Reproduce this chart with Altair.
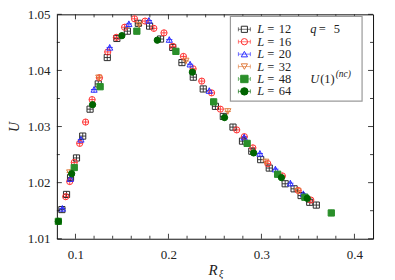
import altair as alt
import pandas as pd

# ---------------- data ----------------
L_values = ["12", "16", "20", "32", "48", "64"]

x12 = [0.0854, 0.0904, 0.0947, 0.1011, 0.1078, 0.1157, 0.1245, 0.1342, 0.1445, 0.1558,
       0.1676, 0.1797, 0.1915, 0.2046, 0.2145, 0.2267, 0.2374, 0.2505, 0.2590, 0.2694,
       0.2796, 0.2896, 0.2992, 0.3084, 0.3255, 0.3351, 0.3426, 0.3519, 0.3590]
y12 = [1.0152, 1.0179, 1.0209, 1.0244, 1.0283, 1.0331, 1.0376, 1.0423, 1.0457, 1.0470,
       1.0484, 1.0479, 1.0456, 1.0441, 1.0414, 1.0388, 1.0367, 1.0336, 1.0318, 1.0299,
       1.0274, 1.0256, 1.0241, 1.0226, 1.0198, 1.0189, 1.0177, 1.0165, 1.0160]

x16 = [0.0895, 0.0938, 0.0987, 0.1045, 0.1109, 0.1179, 0.1258, 0.1347, 0.1440, 0.1528,
       0.1635, 0.1749, 0.1843, 0.1952, 0.2046, 0.2161, 0.2265, 0.2358, 0.2464, 0.2558,
       0.2734, 0.2816, 0.2908, 0.3068, 0.3225, 0.3396, 0.3531]
y16 = [1.0175, 1.0202, 1.0236, 1.0270, 1.0308, 1.0348, 1.0387, 1.0433, 1.0459, 1.0477,
       1.0492, 1.0488, 1.0475, 1.0467, 1.0443, 1.0425, 1.0403, 1.0381, 1.0360, 1.0331,
       1.0294, 1.0282, 1.0262, 1.0234, 1.0212, 1.0186, 1.0169]

x20 = [0.0859, 0.0945, 0.1059, 0.1200, 0.1368, 0.1574, 0.1790, 0.2009, 0.2233, 0.2439,
       0.2814, 0.2983, 0.3150, 0.3311, 0.3451]
y20 = [1.0154, 1.0207, 1.0277, 1.0366, 1.0441, 1.0483, 1.0489, 1.0455, 1.0411, 1.0364,
       1.0281, 1.0252, 1.0224, 1.0199, 1.0180]

x32 = [0.0938, 0.1251, 0.1685, 0.2187, 0.2638, 0.3046, 0.3391]
y32 = [1.0218, 1.0387, 1.0481, 1.0417, 1.0327, 1.0237, 1.0185]

x48 = [0.0816, 0.0987, 0.1265, 0.1660, 0.2080, 0.2486, 0.2846, 0.3174, 0.3467, 0.3751]
y48 = [1.0131, 1.0227, 1.0371, 1.0470, 1.0434, 1.0344, 1.0270, 1.0215, 1.0174, 1.0146]

x64 = [0.0816, 0.0959, 0.1184, 0.1499, 0.1880, 0.2257, 0.2603, 0.2916, 0.3215, 0.3492]
y64 = [1.0131, 1.0216, 1.0339, 1.0462, 1.0454, 1.0397, 1.0316, 1.0253, 1.0209, 1.0172]

x_major = [0.1, 0.2, 0.3, 0.4]
x_minor = [0.12, 0.14, 0.16, 0.18, 0.22, 0.24, 0.26, 0.28, 0.32, 0.34, 0.36, 0.38]
y_major = [1.01, 1.02, 1.03, 1.04, 1.05]
y_minor = [1.015, 1.025, 1.035, 1.045]

# ---------------- styling ----------------
colors = ["#2b2b2b", "#ff3030", "#2b2bff", "#e07a3c", "#2a8f2a", "#006400"]
fills = ["transparent", "transparent", "transparent", "transparent", "#2a8f2a", "#006400"]
shapes = ["square", "circle", "triangle-up", "triangle-down", "square", "circle"]
sizes = [38, 40, 40, 40, 55, 55]

W, H = 317, 225
SERIF = "Liberation Serif"
INK = "#222222"

series = [(x12, y12), (x16, y16), (x20, y20), (x32, y32), (x48, y48), (x64, y64)]
rows = []
for lab, (xs, ys) in zip(L_values, series):
    for a, b in zip(xs, ys):
        rows.append({"x": a, "y": b, "L": lab})
df = pd.DataFrame(rows)

xscale = alt.Scale(domain=[0.08, 0.42], nice=False, zero=False)
yscale = alt.Scale(domain=[1.01, 1.05], nice=False, zero=False)

xaxis = alt.Axis(values=x_major, format=".1f", ticks=False, domain=False, grid=False,
                 labelPadding=10, title=None, labelFont=SERIF, labelFontSize=13,
                 labelColor=INK)
yaxis = alt.Axis(values=y_major, format=".2f", ticks=False, domain=False, grid=False,
                 labelPadding=7, title="U", titleFont=SERIF, titleFontSize=14,
                 titleFontStyle="italic", titleFontWeight="normal", titleColor=INK,
                 titleX=-42, titleY=H / 2, titleBaseline="middle", labelFont=SERIF,
                 labelFontSize=13, labelColor=INK)

stroke_enc = alt.Stroke("L:N", scale=alt.Scale(domain=L_values, range=colors), legend=None)
size_enc = alt.Size("L:N", scale=alt.Scale(domain=L_values, range=sizes), legend=None)

crosses = alt.Chart(df).mark_point(opacity=1, strokeWidth=0.9, shape="M-1,0L1,0M0,-1L0,1").encode(
    x=alt.X("x:Q", scale=xscale, axis=xaxis),
    y=alt.Y("y:Q", scale=yscale, axis=yaxis),
    stroke=stroke_enc, size=size_enc,
)

points = alt.Chart(df).mark_point(opacity=1, strokeWidth=1).encode(
    x=alt.X("x:Q", scale=xscale, axis=xaxis),
    y=alt.Y("y:Q", scale=yscale, axis=yaxis),
    stroke=stroke_enc,
    fill=alt.Fill("L:N", scale=alt.Scale(domain=L_values, range=fills), legend=None),
    shape=alt.Shape("L:N", scale=alt.Scale(domain=L_values, range=shapes), legend=None),
    size=size_enc,
)

# inward ticks on all four sides
xmaj = pd.DataFrame({"x": x_major})
xmin = pd.DataFrame({"x": x_minor})
ymaj = pd.DataFrame({"y": y_major})
ymin = pd.DataFrame({"y": y_minor})


def xticks(d, length):
    bot = alt.Chart(d).mark_rule(color="#111", strokeWidth=0.8).encode(
        x=alt.X("x:Q", scale=xscale, axis=xaxis), y=alt.value(H), y2=alt.value(H - length))
    top = alt.Chart(d).mark_rule(color="#111", strokeWidth=0.8).encode(
        x=alt.X("x:Q", scale=xscale, axis=xaxis), y=alt.value(0), y2=alt.value(length))
    return [bot, top]


def yticks(d, length):
    left = alt.Chart(d).mark_rule(color="#111", strokeWidth=0.8).encode(
        y=alt.Y("y:Q", scale=yscale, axis=yaxis), x=alt.value(0), x2=alt.value(length))
    right = alt.Chart(d).mark_rule(color="#111", strokeWidth=0.8).encode(
        y=alt.Y("y:Q", scale=yscale, axis=yaxis), x=alt.value(W), x2=alt.value(W - length))
    return [left, right]


tick_layers = xticks(xmaj, 5) + xticks(xmin, 3) + yticks(ymaj, 5) + yticks(ymin, 3)

one = pd.DataFrame({"a": [0]})


def txt(s, x, y, size=12.5, italic=False, align="left", baseline="middle"):
    return alt.Chart(one).mark_text(
        text=s, font=SERIF, fontSize=size, fontStyle="italic" if italic else "normal",
        color=INK, align=align, baseline=baseline,
    ).encode(x=alt.value(x), y=alt.value(y))


# x-axis title R_xi
title_layers = [
    txt("R", W / 2 - 2, H + 36, size=15, italic=True, align="center", baseline="alphabetic"),
    txt("\u03be", W / 2 + 4, H + 38, size=10, italic=True, baseline="alphabetic"),
]

# ---------------- legend (built from the series lists) ----------------
LX0, LX1, LY0, LY1 = 174, 306, 2, 87
row_y = [15 + 12.45 * i for i in range(len(L_values))]
sym_x = 188

legend_layers = [
    alt.Chart(one).mark_rect(fill="white", stroke="#9a9a9a", strokeWidth=1.2).encode(
        x=alt.value(LX0), x2=alt.value(LX1), y=alt.value(LY0), y2=alt.value(LY1))
]
for i, lab in enumerate(L_values):
    yy = row_y[i]
    legend_layers.append(
        alt.Chart(one).mark_rule(color=colors[i], strokeWidth=0.8, opacity=0.8).encode(
            x=alt.value(sym_x - 6), x2=alt.value(sym_x + 6), y=alt.value(yy)))
    for ex in (sym_x - 6, sym_x + 6):
        legend_layers.append(
            alt.Chart(one).mark_rule(color=colors[i], strokeWidth=0.8, opacity=0.8).encode(
                x=alt.value(ex), y=alt.value(yy - 2), y2=alt.value(yy + 2)))
    legend_layers.append(
        alt.Chart(one).mark_point(shape=shapes[i], stroke=colors[i], fill=fills[i],
                                  size=sizes[i], opacity=1, strokeWidth=1).encode(
            x=alt.value(sym_x), y=alt.value(yy)))
    legend_layers.append(txt("L", 201, yy, italic=True))
    legend_layers.append(txt("=", 211, yy))
    legend_layers.append(txt(lab, 222.5, yy))

legend_layers += [
    txt("q", 254, row_y[0], italic=True),
    txt("=", 262.5, row_y[0]),
    txt("5", 277.5, row_y[0]),
    txt("U", 254, row_y[4], italic=True),
    txt("(1)", 264, row_y[4]),
    txt("(nc)", 279.5, row_y[4] - 4.5, size=9.5, italic=True),
]

chart = alt.layer(crosses, points, *tick_layers, *title_layers, *legend_layers).properties(
    width=W, height=H,
    autosize=alt.AutoSizeParams(type="none"),
    padding={"left": 49, "top": 6, "right": 14, "bottom": 41},
).configure_view(stroke="#111", strokeWidth=1).configure_axis(grid=False)

chart.save("out.html", embed_options={"renderer": "svg", "actions": False})
